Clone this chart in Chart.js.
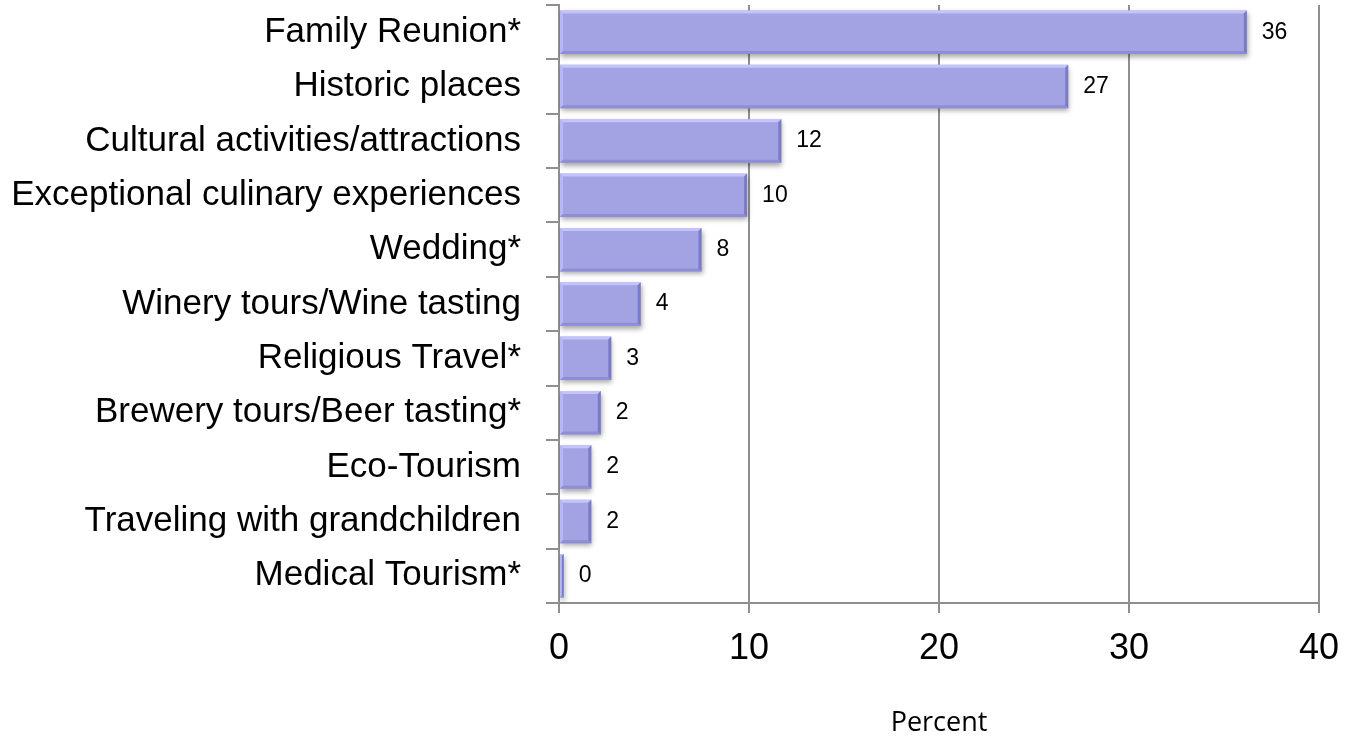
<!DOCTYPE html>
<html>
<head>
<meta charset="utf-8">
<script src="https://cdn.jsdelivr.net/npm/chart.js@4/dist/chart.umd.min.js"></script>
<style>
  html, body { margin: 0; padding: 0; background: #ffffff; }
  #wrap { width: 1349px; height: 740px; position: relative; }
</style>
</head>
<body>
<div id="wrap"><canvas id="c"></canvas></div>
<script>
const categories = [
  "Family Reunion*",
  "Historic places",
  "Cultural activities/attractions",
  "Exceptional culinary experiences",
  "Wedding*",
  "Winery tours/Wine tasting",
  "Religious Travel*",
  "Brewery tours/Beer tasting*",
  "Eco-Tourism",
  "Traveling with grandchildren",
  "Medical Tourism*"
];
const percentValues = [36.2, 26.8, 11.7, 9.9, 7.5, 4.3, 2.75, 2.2, 1.7, 1.7, 0.25];
const valueLabels = ["36", "27", "12", "10", "8", "4", "3", "2", "2", "2", "0"];
const xTicks = [0, 10, 20, 30, 40];
const axisTitle = "Percent";

const FONT = "'Liberation Sans', Arial, sans-serif";

const bevelPlugin = {
  id: 'bevel',
  beforeDatasetsDraw(chart) {
    const ctx = chart.ctx;
    ctx.save();
    ctx.shadowColor = 'rgba(0,0,0,0.35)';
    ctx.shadowBlur = 5;
    ctx.shadowOffsetX = 1;
    ctx.shadowOffsetY = 3;
  },
  afterDatasetsDraw(chart) {
    const ctx = chart.ctx;
    ctx.restore();
    const meta = chart.getDatasetMeta(0);
    ctx.save();
    meta.data.forEach((bar, i) => {
      const left = bar.base, right = bar.x;
      const top = bar.y - bar.height / 2, bottom = bar.y + bar.height / 2;
      const w = right - left;
      const b = Math.min(3, w / 2);
      ctx.fillStyle = 'rgba(200,200,250,0.9)';
      ctx.beginPath();
      ctx.moveTo(left, top); ctx.lineTo(right, top);
      ctx.lineTo(right - b, top + b); ctx.lineTo(left + b, top + b); ctx.closePath(); ctx.fill();
      ctx.fillStyle = 'rgba(185,185,245,0.9)';
      ctx.beginPath();
      ctx.moveTo(left, top); ctx.lineTo(left + b, top + b);
      ctx.lineTo(left + b, bottom - b); ctx.lineTo(left, bottom); ctx.closePath(); ctx.fill();
      ctx.fillStyle = 'rgba(140,140,215,0.95)';
      ctx.beginPath();
      ctx.moveTo(left, bottom); ctx.lineTo(right, bottom);
      ctx.lineTo(right - b, bottom - b); ctx.lineTo(left + b, bottom - b); ctx.closePath(); ctx.fill();
      ctx.fillStyle = 'rgba(120,120,200,0.95)';
      ctx.beginPath();
      ctx.moveTo(right, top); ctx.lineTo(right, bottom);
      ctx.lineTo(right - b, bottom - b); ctx.lineTo(right - b, top + b); ctx.closePath(); ctx.fill();
    });
    ctx.fillStyle = '#000000';
    ctx.font = '23px ' + FONT;
    ctx.textAlign = 'left';
    ctx.textBaseline = 'middle';
    meta.data.forEach((bar, i) => {
      ctx.fillText(valueLabels[i], bar.x + 15, bar.y);
    });
    ctx.restore();
  }
};

new Chart(document.getElementById('c'), {
  type: 'bar',
  data: {
    labels: categories,
    datasets: [{
      data: percentValues,
      backgroundColor: '#a3a3e4',
      borderWidth: 0,
      categoryPercentage: 0.8,
      barPercentage: 1.0
    }]
  },
  options: {
    indexAxis: 'y',
    responsive: true,
    maintainAspectRatio: false,
    animation: false,
    events: [],
    layout: { padding: { top: 5, right: 30, left: 0, bottom: 0 } },
    plugins: {
      legend: { display: false },
      tooltip: { enabled: false }
    },
    scales: {
      x: {
        min: 0,
        max: 40,
        afterBuildTicks(scale) { scale.ticks = xTicks.map(v => ({ value: v })); },
        grid: {
          color: '#8f8f8f',
          lineWidth: 2,
          drawOnChartArea: true,
          drawTicks: true,
          tickLength: 10,
          tickColor: '#8f8f8f'
        },
        border: { display: true, color: '#8f8f8f', width: 2 },
        ticks: {
          color: '#000000',
          font: { family: FONT, size: 36 },
          padding: 14,
          maxRotation: 0
        },
        title: {
          display: true,
          text: axisTitle,
          color: '#000000',
          font: { family: "'Open Sans', sans-serif", size: 27 },
          padding: { top: 38, bottom: 0 }
        },
        afterFit(scale) {
          scale.height = 137;
          scale.paddingLeft = 0;
          scale.paddingRight = 0;
        }
      },
      y: {
        grid: {
          display: true,
          offset: true,
          drawOnChartArea: false,
          drawTicks: true,
          tickLength: 13,
          color: '#8f8f8f',
          lineWidth: 2
        },
        border: { display: true, color: '#8f8f8f', width: 2 },
        ticks: {
          color: '#000000',
          font: { family: FONT, size: 35 },
          padding: 25,
          autoSkip: false
        },
        afterFit(scale) {
          scale.width = 559;
          scale.paddingTop = 0;
          scale.paddingBottom = 0;
        }
      }
    }
  },
  plugins: [bevelPlugin]
});
</script>
</body>
</html>
